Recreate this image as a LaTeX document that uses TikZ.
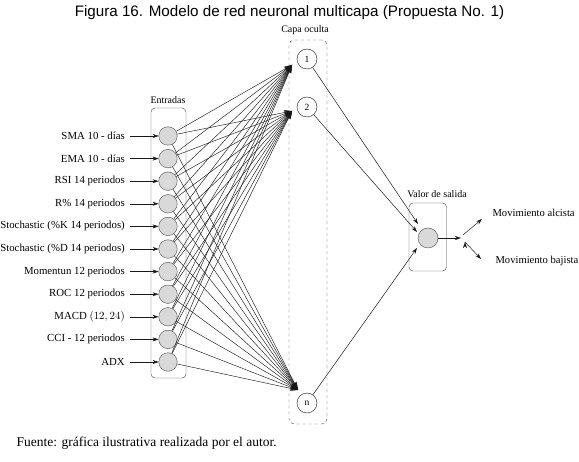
\documentclass[tikz,border=0pt]{standalone}
\usepackage{fontspec}
\setmainfont{Liberation Serif}
\newfontfamily\titlefont{Liberation Sans}
\usetikzlibrary{arrows.meta, positioning}

\begin{document}
\begin{tikzpicture}[x=1pt, y=-1pt,
    entrada/.style={circle, draw=black!70, fill=black!15, minimum size=18.5pt, inner sep=0pt},
    oculta/.style={circle, draw=black!90, fill=white, minimum size=20pt, inner sep=0pt, font=\fontsize{9.5}{10}\selectfont},
    etiq/.style={anchor=east, inner sep=3pt, font=\fontsize{10.8}{12}\selectfont},
    rotulo/.style={font=\fontsize{10}{12}\selectfont},
    caja/.style={draw=black!75, rounded corners=4pt, inner sep=0pt},
    flecha/.style={-{Stealth[length=6pt, width=4pt]}, black!90, line width=0.5pt},
    conex/.style={-{Stealth[length=8pt, width=5pt]}, black!90, line width=0.45pt}]

    \useasboundingbox (0,0) rectangle (579,462);

    \node[font=\titlefont\fontsize{15.2}{17}\selectfont] (tit) at (289.5,13) {Figura 16. Modelo de red neuronal multicapa (Propuesta No. 1)};

    % capa de entrada
    \node[caja, minimum width=35pt, minimum height=270pt] (cent) at (168.5,243) {};
    \node[rotulo] (rent) at (168,100) {Entradas};
    \node[entrada] (e1) at (168, 136) {};
    \node[entrada] (e2) at (168, 158.6) {};
    \node[entrada] (e3) at (168, 181.2) {};
    \node[entrada] (e4) at (168, 203.8) {};
    \node[entrada] (e5) at (168, 226.4) {};
    \node[entrada] (e6) at (168, 249) {};
    \node[entrada] (e7) at (168, 271.6) {};
    \node[entrada] (e8) at (168, 294.2) {};
    \node[entrada] (e9) at (168, 316.8) {};
    \node[entrada] (e10) at (168, 339.4) {};
    \node[entrada] (e11) at (168, 362) {};

    \node[etiq] (l1) at (128, 136) {SMA 10 - días};
    \node[etiq] (l2) at (128, 158.6) {EMA 10 - días};
    \node[etiq] (l3) at (128, 181.2) {RSI 14 periodos};
    \node[etiq] (l4) at (128, 203.8) {R\% 14 periodos};
    \node[etiq] (l5) at (128, 226.4) {Stochastic (\%K 14 periodos)};
    \node[etiq] (l6) at (128, 249) {Stochastic (\%D 14 periodos)};
    \node[etiq] (l7) at (128, 271.6) {Momentun 12 periodos};
    \node[etiq] (l8) at (128, 294.2) {ROC 12 periodos};
    \node[etiq] (l9) at (128, 316.8) {MACD $(12,24)$};
    \node[etiq] (l10) at (128, 339.4) {CCI - 12 periodos};
    \node[etiq] (l11) at (128, 362) {ADX};

    % capa oculta
    \node[caja, dashed, draw=black!75, rounded corners=5pt, minimum width=38pt, minimum height=384pt] (coc) at (308,232) {};
    \node[rotulo] (roc) at (305,30) {Capa oculta};
    \node[oculta] (h1) at (307,59) {1};
    \node[oculta] (h2) at (307,107) {2};
    \node[oculta] (hn) at (307,403) {n};
    \coordinate (c1) at (292,65);
    \coordinate (c2) at (292,111);
    \coordinate (cn) at (298,390);

    % capa de salida
    \node[caja, minimum width=37.5pt, minimum height=68pt] (csal) at (427.75,237) {};
    \node[rotulo] (rsal) at (437,194) {Valor de salida};
    \node[entrada, minimum size=20pt] (o) at (428,238) {};
    \coordinate (a1) at (418,224);
    \coordinate (a2) at (417,232);
    \coordinate (a3) at (417,248);
    \coordinate (s0) at (461,238);
    \coordinate (d1) at (463,235);
    \coordinate (d2) at (465,242);
    \coordinate (m1) at (482,219);
    \coordinate (m2) at (481,259);
    \node[rotulo, anchor=west, font=\fontsize{10.6}{12}\selectfont] (alc) at (489,213) {Movimiento alcista};
    \node[rotulo, anchor=west, font=\fontsize{10.6}{12}\selectfont] (baj) at (492,261) {Movimiento bajista};

    \node[anchor=west, font=\fontsize{13.5}{15}\selectfont] (fte) at (13,443) {Fuente: gráfica ilustrativa realizada por el autor.};

    \draw[flecha, shorten <=2pt]
    (l1) edge (e1)
    (l2) edge (e2)
    (l3) edge (e3)
    (l4) edge (e4)
    (l5) edge (e5)
    (l6) edge (e6)
    (l7) edge (e7)
    (l8) edge (e8)
    (l9) edge (e9)
    (l10) edge (e10)
    (l11) edge (e11);

    \draw[conex]
    (e1) edge (c1) (e1) edge (c2) (e1) edge (cn)
    (e2) edge (c1) (e2) edge (c2) (e2) edge (cn)
    (e3) edge (c1) (e3) edge (c2) (e3) edge (cn)
    (e4) edge (c1) (e4) edge (c2) (e4) edge (cn)
    (e5) edge (c1) (e5) edge (c2) (e5) edge (cn)
    (e6) edge (c1) (e6) edge (c2) (e6) edge (cn)
    (e7) edge (c1) (e7) edge (c2) (e7) edge (cn)
    (e8) edge (c1) (e8) edge (c2) (e8) edge (cn)
    (e9) edge (c1) (e9) edge (c2) (e9) edge (cn)
    (e10) edge (c1) (e10) edge (c2) (e10) edge (cn)
    (e11) edge (c1) (e11) edge (c2) (e11) edge (cn);

    \draw[flecha]
    (h1) edge (a1)
    (h2) edge (a2)
    (hn) edge (a3)
    (o) edge (s0)
    (d1) edge (m1)
    (d2) edge (m2);
\end{tikzpicture}
\end{document}
